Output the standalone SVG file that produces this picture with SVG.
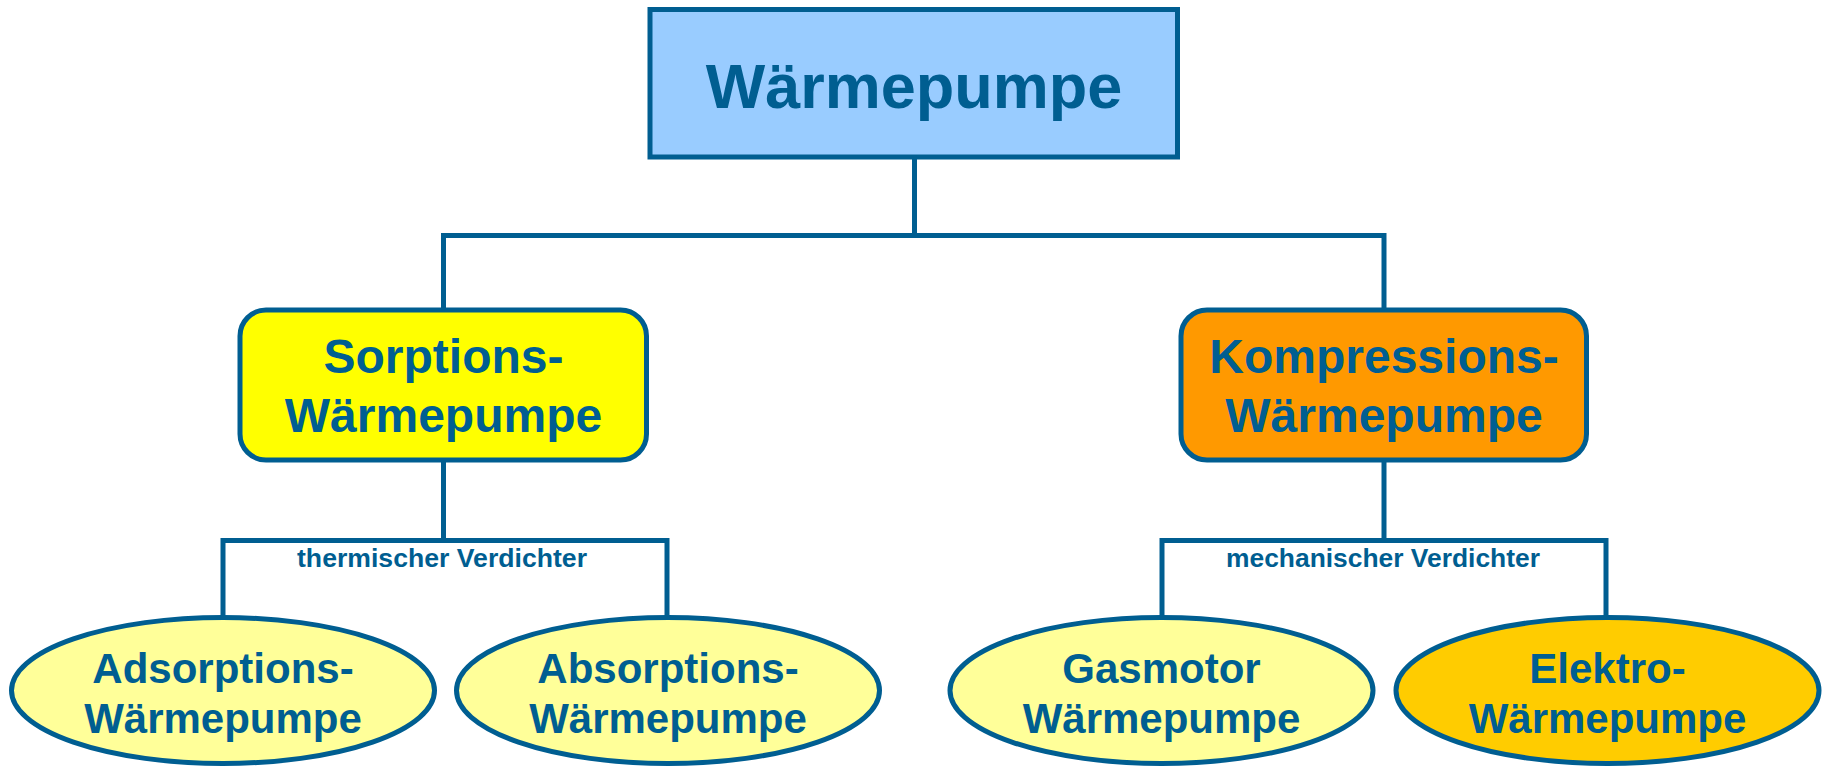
<svg xmlns="http://www.w3.org/2000/svg" width="1829" height="768" viewBox="0 0 1829 768">
<style>
.ln{fill:none;stroke:#005E91;stroke-width:5}
.bx{stroke:#005E91;stroke-width:5}
.t{font-family:"Liberation Sans",Arial,sans-serif;font-weight:bold;fill:#005E91;text-anchor:middle}
.big{font-size:63px}
.mid{font-size:48px}
.el{font-size:42px}
.sm{font-size:25px}
</style>
<rect width="1829" height="768" fill="#ffffff"/>
<g id="connectors">
<path class="ln" d="M914.5,157 V235.5 M443.5,235.5 H1384 M443.5,233 V310 M1384,233 V310"/>
<path class="ln" d="M443.5,460 V540.5 M223,617 V540.5 H667 V617"/>
<path class="ln" d="M1384,460 V540.5 M1162,617 V540.5 H1606 V617"/>
<text class="t sm" x="442" y="567" textLength="290" lengthAdjust="spacingAndGlyphs">thermischer Verdichter</text>
<text class="t sm" x="1383" y="567" textLength="314" lengthAdjust="spacingAndGlyphs">mechanischer Verdichter</text>
</g>
<g id="waermepumpe">
<rect class="bx" x="650" y="9.5" width="527.5" height="147.5" fill="#99CCFF"/>
<text class="t big" x="914" y="108">Wärmepumpe</text>
</g>
<g id="sorption">
<rect class="bx" x="240" y="310" width="406.5" height="150" rx="26" fill="#FFFF00"/>
<text class="t mid" x="443.5" y="373">Sorptions-</text>
<text class="t mid" x="443.5" y="432">Wärmepumpe</text>
</g>
<g id="kompression">
<rect class="bx" x="1181" y="310" width="405.5" height="150" rx="26" fill="#FF9900"/>
<text class="t mid" x="1384" y="373">Kompressions-</text>
<text class="t mid" x="1384" y="432">Wärmepumpe</text>
</g>
<g id="adsorption">
<ellipse class="bx" cx="223" cy="690.5" rx="211.5" ry="73" fill="#FFFF99"/>
<text class="t el" x="223" y="683">Adsorptions-</text>
<text class="t el" x="223" y="733">Wärmepumpe</text>
</g>
<g id="absorption">
<ellipse class="bx" cx="668" cy="690.5" rx="211.5" ry="73" fill="#FFFF99"/>
<text class="t el" x="668" y="683">Absorptions-</text>
<text class="t el" x="668" y="733">Wärmepumpe</text>
</g>
<g id="gasmotor">
<ellipse class="bx" cx="1161.5" cy="690.5" rx="211.5" ry="73" fill="#FFFF99"/>
<text class="t el" x="1161.5" y="683">Gasmotor</text>
<text class="t el" x="1161.5" y="733">Wärmepumpe</text>
</g>
<g id="elektro">
<ellipse class="bx" cx="1607.5" cy="690.5" rx="211.5" ry="73" fill="#FFCC00"/>
<text class="t el" x="1607.5" y="683">Elektro-</text>
<text class="t el" x="1607.5" y="733">Wärmepumpe</text>
</g>
</svg>
